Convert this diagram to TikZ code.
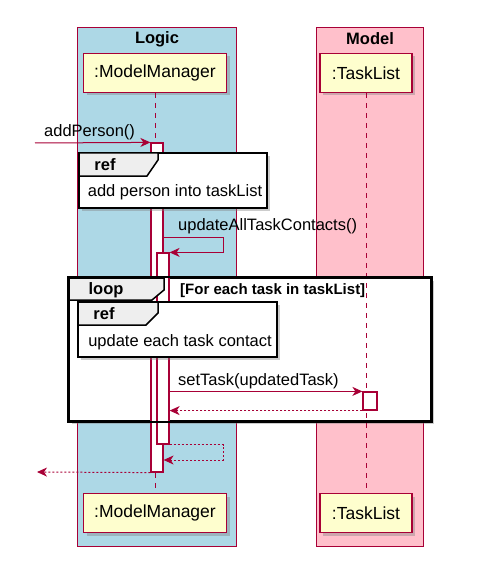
\documentclass[tikz,border=0pt]{standalone}
\usepackage{fontspec}
\setmainfont{Liberation Sans}
\usetikzlibrary{arrows.meta, shadows}

\definecolor{umlred}{HTML}{A80036}
\definecolor{logicbg}{HTML}{ADD8E6}
\definecolor{modelbg}{HTML}{FFC0CB}
\definecolor{partfill}{HTML}{FEFECE}
\definecolor{tabfill}{HTML}{EEEEEE}

\begin{document}
\begin{tikzpicture}[x=1pt, y=-1pt,
	boxbg/.style={draw=umlred, line width=1pt},
	participant/.style={draw=umlred, line width=1.5pt, fill=partfill, minimum height=39pt, inner sep=0pt,
		font=\fontsize{17.5}{20}\selectfont, drop shadow={opacity=0.4, shadow xshift=3pt, shadow yshift=-3pt}},
	lifeline/.style={draw=umlred, line width=1pt, dash pattern=on 5pt off 5pt},
	act/.style={draw=umlred, line width=1.2pt, fill=white, minimum width=12pt, inner sep=0pt},
	frame/.style={draw=black, line width=2pt, fill=white, inner sep=0pt,
		drop shadow={opacity=0.4, shadow xshift=3pt, shadow yshift=-3pt}},
	tab/.style={draw=black, line width=1.5pt, fill=tabfill},
	msg/.style={draw=umlred, line width=1pt, -{Stealth[length=10pt, width=9pt, inset=3pt]}},
	ret/.style={msg, dash pattern=on 2pt off 2pt},
	msglabel/.style={font=\fontsize{16.5}{19}\selectfont, inner sep=1pt},
	boldlabel/.style={font=\bfseries\fontsize{16.5}{19}\selectfont, inner sep=1pt}
]
	\useasboundingbox (0,0) rectangle (492,572);

	% boxes
	\draw[boxbg, fill=logicbg] (77,28) rectangle (236,546);
	\draw[boxbg, fill=modelbg] (316,28) rectangle (423,546);
	\node[boldlabel] (logicTitle) at (157,39) {Logic};
	\node[boldlabel] (modelTitle) at (370,39) {Model};

	% participants
	\node[participant, minimum width=143pt] (mmTop) at (155,73) {:ModelManager};
	\node[participant, minimum width=92pt] (tlTop) at (366,73) {:TaskList};
	\node[participant, minimum width=143pt] (mmBot) at (155,513) {:ModelManager};
	\node[participant, minimum width=92pt] (tlBot) at (366,513) {:TaskList};

	% loop frame
	\node[frame, minimum width=362pt, minimum height=143pt] (loopFrame) at (250,349.5) {};

	% lifelines
	\draw[lifeline] (mmTop.south) -- (mmBot.north);
	\draw[lifeline] (tlTop.south) -- (tlBot.north);

	% activations
	\node[act, minimum height=329pt] (act1) at (157,307.5) {};
	\node[act, minimum height=191pt] (act2) at (163,348.5) {};
	\node[act, minimum width=14pt, minimum height=18pt] (act3) at (370,401) {};

	% loop tab
	\draw[tab] (69,278) -- (164,278) -- (164,290) -- (152,300) -- (69,300) -- cycle;
	\node[boldlabel] (loopLbl) at (106,290) {loop};
	\node[boldlabel, font=\bfseries\fontsize{15}{17}\selectfont, anchor=west] (loopGuard) at (179,291) {[For each task in taskList]};
	\draw[draw=black, line width=2pt] (loopFrame.north west) rectangle (loopFrame.south east);

	% refs
	\node[frame, minimum width=188pt, minimum height=55pt] (ref1) at (173,180.5) {};
	\draw[tab] (79,153) -- (158,153) -- (158,160) -- (147,176) -- (79,176) -- cycle;
	\node[boldlabel] (ref1Lbl) at (105,165) {ref};
	\node[msglabel] (ref1Txt) at (175,192) {add person into taskList};

	\node[frame, minimum width=199pt, minimum height=55pt] (ref2) at (177.5,329.5) {};
	\draw[tab] (78,302) -- (158,302) -- (158,313) -- (146,325) -- (78,325) -- cycle;
	\node[boldlabel] (ref2Lbl) at (104,314) {ref};
	\node[msglabel] (ref2Txt) at (180,342) {update each task contact};

	% messages
	\coordinate (inStart) at (35,143);
	\coordinate (selfOut) at (223,237);
	\coordinate (selfBack) at (223,460);
	\coordinate (outEnd) at (37,472);

	\draw[msg] (inStart) -- (act1.north west);
	\node[msglabel, anchor=south west] (addLbl) at (43,141) {addPerson()};

	\draw[msg] (act1.east |- selfOut) -- (selfOut) |- (act2.north east);
	\node[msglabel, anchor=south west] (updLbl) at (177,235) {updateAllTaskContacts()};

	\draw[msg] (act2.east |- act3.north) -- (act3.north west);
	\node[msglabel, anchor=south west] (setLbl) at (177,390) {setTask(updatedTask)};
	\draw[ret] (act3.south west) -- (act2.east |- act3.south);

	\draw[ret] (act2.south east) -| (selfBack) -- (act1.east |- selfBack);
	\draw[ret] (act1.south west) -- (outEnd);
\end{tikzpicture}
\end{document}
